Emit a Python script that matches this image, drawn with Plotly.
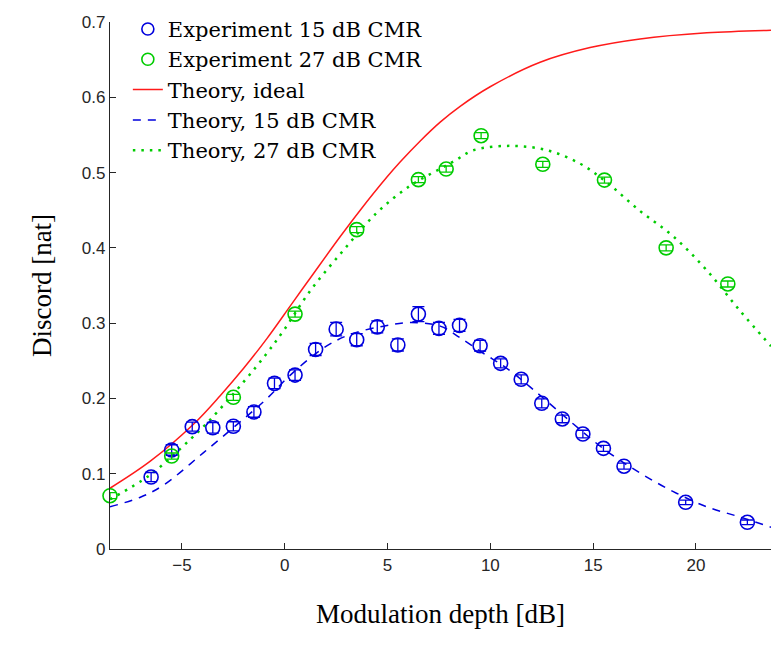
import plotly.graph_objects as go

# Experimental data, 15 dB CMR
exp15_x = [-6.5, -5.5, -4.5, -3.5, -2.5, -1.5, -0.5, 0.5, 1.5, 2.5, 3.5, 4.5, 5.5, 6.5,
           7.5, 8.5, 9.5, 10.5, 11.5, 12.5, 13.5, 14.5, 15.5, 16.5, 19.5, 22.5]
exp15_y = [0.0956, 0.1315, 0.1625, 0.161, 0.163, 0.182, 0.220, 0.231, 0.265, 0.292, 0.278,
           0.295, 0.271, 0.312, 0.293, 0.297, 0.270, 0.2466, 0.2254, 0.1935, 0.1727, 0.1527,
           0.1337, 0.110, 0.062, 0.0355]
exp15_err = [0.006, 0.007, 0.006, 0.007, 0.006, 0.007, 0.007, 0.007, 0.008, 0.009, 0.008,
             0.008, 0.008, 0.010, 0.008, 0.008, 0.007, 0.006, 0.006, 0.006, 0.005, 0.005,
             0.004, 0.004, 0.003, 0.003]

# Experimental data, 27 dB CMR
exp27_x = [-8.5, -5.5, -2.5, 0.5, 3.5, 6.5, 7.85, 9.55, 12.55, 15.55, 18.55, 21.55]
exp27_y = [0.0708, 0.1235, 0.2015, 0.312, 0.4242, 0.4906, 0.5047, 0.549, 0.511, 0.490, 0.400, 0.352]
exp27_err = [0.004] * 12

# Theory, ideal
th_ideal_x = [-8.5, -6.54, -4.43, -3.13, -2.0, -0.87, 0.35, 1.40, 2.70, 3.67, 4.97, 5.61, 6.59,
              7.56, 8.53, 9.99, 12.42, 14.85, 17.28, 20.53, 23.65]
th_ideal_y = [0.0807, 0.1166, 0.166, 0.204, 0.240, 0.2795, 0.326, 0.366, 0.415, 0.450, 0.494,
              0.514, 0.542, 0.567, 0.588, 0.614, 0.6465, 0.666, 0.6775, 0.6856, 0.689]

# Theory, 15 dB CMR
th15_x = [-8.5, -7.0, -5.89, -3.95, -2.0, -0.87, 0.27, 1.89, 3.18, 4.8, 6.1, 7.56, 8.53, 9.66,
          10.8, 12.42, 14.04, 15.66, 17.28, 18.9, 20.53, 22.14, 23.65]
th15_y = [0.056, 0.069, 0.085, 0.128, 0.1728, 0.1998, 0.231, 0.267, 0.285, 0.296, 0.3007, 0.296,
          0.2805, 0.260, 0.240, 0.204, 0.166, 0.130, 0.101, 0.0762, 0.056, 0.0425, 0.029]

# Theory, 27 dB CMR
th27_x = [-8.5, -6.54, -4.59, -3.62, -2.0, -0.87, -0.06, 1.24, 2.86, 4.48, 6.1, 7.56, 8.29,
          9.18, 10.96, 12.75, 14.37, 15.66, 17.28, 18.9, 20.53, 22.14, 23.65]
th27_y = [0.066, 0.0987, 0.1458, 0.172, 0.222, 0.260, 0.290, 0.343, 0.397, 0.4467, 0.4825,
          0.505, 0.516, 0.5297, 0.5355, 0.5297, 0.5118, 0.487, 0.449, 0.4152, 0.370, 0.3165,
          0.2694]

BLUE = "#0000dd"
GREEN = "#00cc00"
RED = "#ff1a1a"
AX = "#262626"
SERIF = "Liberation Serif"

fig = go.Figure()

fig.add_trace(go.Scatter(x=th_ideal_x, y=th_ideal_y, mode="lines", line_shape="spline",
                         line=dict(color=RED, width=1.5), name="Theory, ideal", legendrank=3))
fig.add_trace(go.Scatter(x=th15_x, y=th15_y, mode="lines", line_shape="spline",
                         line=dict(color=BLUE, width=1.5, dash="8px,7px"),
                         name="Theory, 15 dB CMR", legendrank=4))
fig.add_trace(go.Scatter(x=th27_x, y=th27_y, mode="lines", line_shape="spline",
                         line=dict(color=GREEN, width=2.5, dash="2.5px,6px"),
                         name="Theory, 27 dB CMR", legendrank=5))

fig.add_trace(go.Scatter(x=exp15_x, y=exp15_y, mode="markers", cliponaxis=False,
                         marker=dict(symbol="circle-open", size=14, color=BLUE, line=dict(width=1.6)),
                         error_y=dict(type="data", array=exp15_err, color=BLUE, thickness=1.3, width=6),
                         showlegend=False))
fig.add_trace(go.Scatter(x=exp27_x, y=exp27_y, mode="markers", cliponaxis=False,
                         marker=dict(symbol="circle-open", size=14, color=GREEN, line=dict(width=1.6)),
                         error_y=dict(type="data", array=exp27_err, color=GREEN, thickness=1.3, width=6),
                         showlegend=False))
# legend entries for experiments
fig.add_trace(go.Scatter(x=[None], y=[None], mode="markers", name="Experiment 15 dB CMR",
                         marker=dict(symbol="circle-open", size=12, color=BLUE, line=dict(width=1.6)),
                         legendrank=1))
fig.add_trace(go.Scatter(x=[None], y=[None], mode="markers", name="Experiment 27 dB CMR",
                         marker=dict(symbol="circle-open", size=12, color=GREEN, line=dict(width=1.6)),
                         legendrank=2))

fig.update_layout(
    width=771, height=646,
    margin=dict(l=110, r=0, t=22, b=97),
    paper_bgcolor="white", plot_bgcolor="white",
    showlegend=True,
    legend=dict(x=0.027, y=1.025, xanchor="left", yanchor="top",
                font=dict(family="DejaVu Serif", size=21, color="black"),
                bgcolor="rgba(0,0,0,0)", tracegroupgap=0, itemwidth=30),
    xaxis=dict(range=[-8.5, 23.65], tickvals=[-5, 0, 5, 10, 15, 20],
               showline=True, linecolor=AX, linewidth=1.2, mirror=False,
               ticks="inside", ticklen=6, tickcolor=AX, showgrid=False, zeroline=False,
               tickfont=dict(family="Liberation Sans", size=17, color=AX),
               title=dict(text="Modulation depth [dB]", standoff=30,
                          font=dict(family=SERIF, size=27, color="black"))),
    yaxis=dict(range=[0, 0.7], tickvals=[0, 0.1, 0.2, 0.3, 0.4, 0.5, 0.6, 0.7],
               ticktext=["0", "0.1", "0.2", "0.3", "0.4", "0.5", "0.6", "0.7"],
               showline=True, linecolor=AX, linewidth=1.2,
               ticks="inside", ticklen=6, tickcolor=AX, showgrid=False, zeroline=False,
               tickfont=dict(family="Liberation Sans", size=17, color=AX),
               title=dict(text="Discord [nat]", standoff=22,
                          font=dict(family=SERIF, size=27, color="black"))),
)

fig.write_html("out.html")
